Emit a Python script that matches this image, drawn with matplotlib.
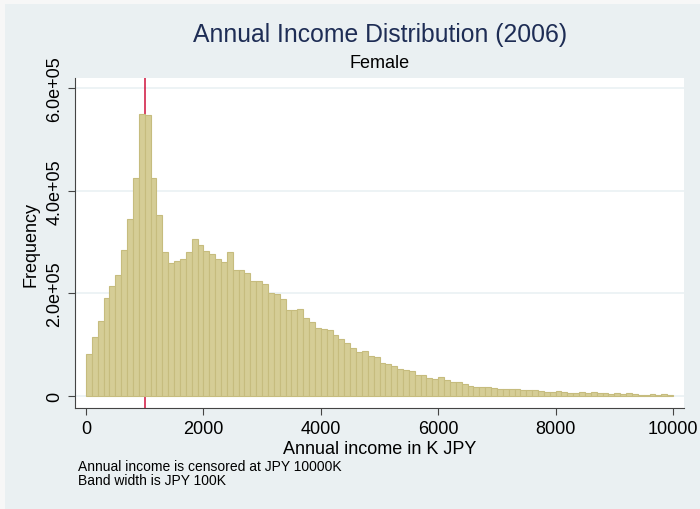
import matplotlib.pyplot as plt
from matplotlib.patches import Rectangle

plt.rcParams['font.family'] = ['Liberation Sans', 'DejaVu Sans']

# bins of 100K JPY, left edges 0..9900
bin_width = 100
heights = [
    81250, 115000, 145600, 190450, 214500, 236000, 284700, 345150, 423800, 549250,
    547300, 423800, 353000, 281450, 260000, 263900, 267800, 281450, 306150, 295100,
    283400, 277550, 267800, 261300, 281450, 245700, 245700, 239200, 224900, 223600,
    217750, 200850, 198250, 189150, 167700, 167700, 170300, 152750, 144300, 133250,
    130650, 128700, 118950, 110500, 102700, 92950, 85150, 87750, 78000, 75400,
    63700, 61750, 58500, 52000, 50700, 48100, 40300, 40300, 34450, 32500,
    36400, 30550, 27950, 27300, 24050, 19500, 18200, 17550, 16900, 14950,
    14300, 14300, 14300, 14300, 11700, 11050, 11050, 10400, 8450, 7800,
    9750, 8450, 6500, 6500, 7800, 5200, 7150, 5200, 5200, 3900,
    5850, 3900, 5200, 3900, 2600, 2600, 3250, 2600, 3900, 2600,
]
left_edges = [i * bin_width for i in range(len(heights))]
median_line = 1000

x_ticks = [0, 2000, 4000, 6000, 8000, 10000]
y_ticks = [0, 200000, 400000, 600000]
y_labels = ['0', '2.0e+05', '4.0e+05', '6.0e+05']

fig = plt.figure(figsize=(7, 5.1), dpi=100, facecolor='#f7f7f7')
fig.patches.append(Rectangle((5 / 700, 0), 1, 1 - 5 / 510, transform=fig.transFigure,
                             facecolor='#eaf0f2', edgecolor='none', zorder=-10))

ax = fig.add_axes([75 / 700, (510 - 409.3) / 510, 609 / 700, 330 / 510])
ax.set_facecolor('white')
# the red line sits behind the bars, as in the original
ax.axvline(median_line, color='#d0123c', linewidth=1.1, zorder=1.5)
ax.bar(left_edges, heights, width=bin_width, align='edge',
       color='#d5cd96', edgecolor='#c6bc7e', linewidth=0.8, zorder=2)

ax.set_xlim(-187, 10187)
ax.set_ylim(-24000, 619000)
ax.set_xticks(x_ticks)
ax.set_xticklabels([str(v) for v in x_ticks], fontsize=13)
ax.set_yticks(y_ticks)
ax.set_yticklabels(y_labels, fontsize=13, rotation=90, va='center')
ax.grid(axis='y', color='#eaf1f3', linewidth=1.2, zorder=1)
ax.set_axisbelow(True)
for s in ['top', 'right']:
    ax.spines[s].set_visible(False)
for s in ['left', 'bottom']:
    ax.spines[s].set_color('#444444')
ax.tick_params(direction='out', length=5, color='#444444', width=0.8)

ax.set_xlabel('Annual income in K JPY', fontsize=13, labelpad=2)
ax.set_ylabel('Frequency', fontsize=13, labelpad=5)

fig.text(380 / 700, 1 - 35 / 510, 'Annual Income Distribution (2006)', ha='center', va='center',
         fontsize=17.8, color='#1e2d55')
fig.text(380 / 700, 1 - 63 / 510, 'Female', ha='center', va='center', fontsize=13)
fig.text(78 / 700, 1 - 467 / 510, 'Annual income is censored at JPY 10000K', ha='left',
         va='center', fontsize=10)
fig.text(78 / 700, 1 - 481 / 510, 'Band width is JPY 100K', ha='left', va='center', fontsize=10)

fig.savefig('out.png', dpi=100, facecolor=fig.get_facecolor())
